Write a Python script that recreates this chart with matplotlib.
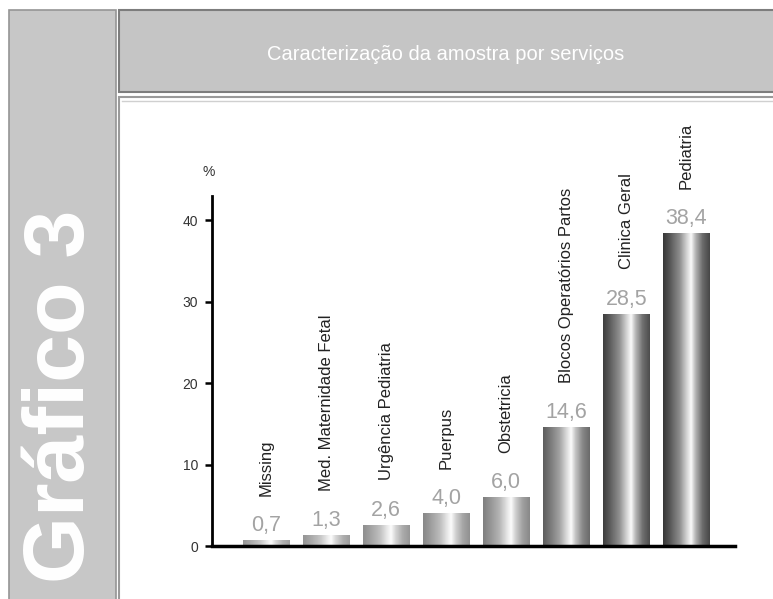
import numpy as np
import matplotlib
matplotlib.use("Agg")
import matplotlib.pyplot as plt
from matplotlib.patches import Rectangle

plt.rcParams["font.family"] = ["Liberation Sans", "DejaVu Sans"]

# data
servicos = ["Missing", "Med. Maternidade Fetal", "Urgência Pediatria", "Puerpus",
            "Obstetricia", "Blocos Operatórios Partos", "Clinica Geral", "Pediatria"]
percentagens = [0.7, 1.3, 2.6, 4.0, 6.0, 14.6, 28.5, 38.4]
valor_txt = ["0,7", "1,3", "2,6", "4,0", "6,0", "14,6", "28,5", "38,4"]
y_ticks = [0, 10, 20, 30, 40]

titulo = "Caracterização da amostra por serviços"
painel = "Gráfico 3"


def main():
    fig = plt.figure(figsize=(7.73, 5.99), dpi=100)

    # background frame in pixel coordinates
    bg = fig.add_axes([0, 0, 1, 1])
    bg.set_xlim(0, 773)
    bg.set_ylim(599, 0)
    bg.axis("off")
    bg.add_patch(Rectangle((9, 10), 107, 600, facecolor="#c7c7c7", edgecolor="#959595", lw=1.2))
    bg.add_patch(Rectangle((119, 10), 660, 82, facecolor="#c5c5c5", edgecolor="#7d7d7d", lw=1.5))
    bg.add_patch(Rectangle((119, 97), 660, 510, facecolor="white", edgecolor="#9a9a9a", lw=1.5))
    bg.plot([122, 773], [100.5, 100.5], color="#d0d0d0", lw=1)
    bg.text(446, 54, titulo, color="white", fontsize=14.5, ha="center", va="center")
    bg.text(62, 396, painel, color="white", fontsize=62, fontweight="bold",
            rotation=90, ha="center", va="center")

    ax = fig.add_axes([212 / 773, 53 / 599, 523 / 773, 350 / 599])
    ax.patch.set_alpha(0)
    x = np.arange(len(servicos))
    bars = ax.bar(x, percentagens, width=0.766, color="none", edgecolor="none")

    # cylindrical shading of each bar
    pos = [0.0, 0.12, 0.35, 0.52, 0.6, 0.7, 0.85, 1.0]
    val = [0.22, 0.32, 0.55, 0.85, 0.98, 0.7, 0.42, 0.28]
    prof = np.interp(np.linspace(0, 1, 64), pos, val)
    top = max(percentagens)
    for b, h in zip(bars, percentagens):
        light = 0.5 * (1 - h / top) ** 2
        grad = (prof + (1 - prof) * light)[None, :]
        x0 = b.get_x()
        im = ax.imshow(grad, extent=[x0, x0 + b.get_width(), 0, h], aspect="auto",
                       cmap="gray", vmin=0, vmax=1, zorder=2)
        im.set_clip_path(b)

    for xi, h, t, nome in zip(x, percentagens, valor_txt, servicos):
        ax.annotate(t, (xi, h), xytext=(0, 3), textcoords="offset points",
                    ha="center", va="bottom", fontsize=15.5, color="#a3a3a3")
        ax.annotate(nome, (xi, h), xytext=(0, 32), textcoords="offset points",
                    ha="center", va="bottom", rotation=90, fontsize=12, color="#222222")

    ax.set_xlim(-0.899, 7.81)
    ax.set_ylim(0, 42.95)
    ax.set_yticks(y_ticks)
    ax.set_xticks([])
    ax.spines["top"].set_visible(False)
    ax.spines["right"].set_visible(False)
    ax.spines["left"].set_linewidth(2)
    ax.spines["bottom"].set_linewidth(2.5)
    ax.tick_params(axis="y", direction="out", length=5, width=1.8, labelsize=10,
                   labelcolor="#333333", pad=5)
    ax.text(-0.95, 45.9, "%", ha="center", va="center", fontsize=10, color="#333333",
            clip_on=False)

    plt.savefig("out.png", dpi=100)


if __name__ == "__main__":
    main()
